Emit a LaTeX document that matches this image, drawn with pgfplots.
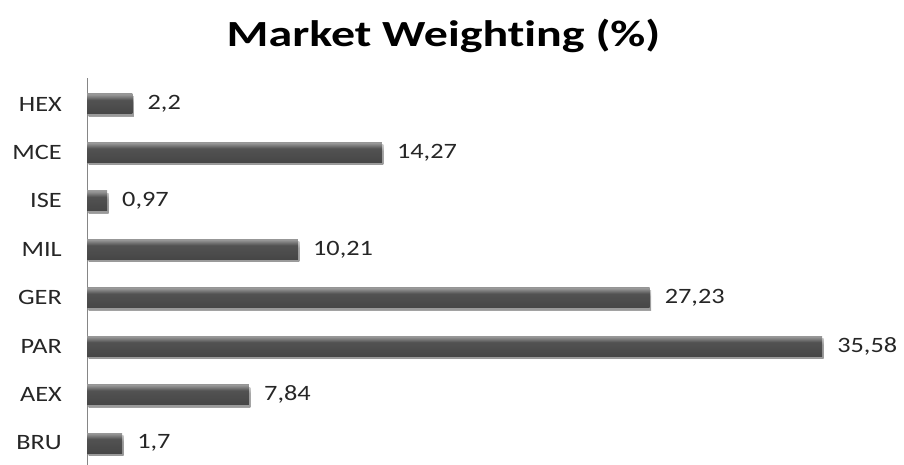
\documentclass[border=0pt]{standalone}
\usepackage{pgfplots}
\pgfplotsset{compat=1.18}
\usepackage{fontspec}
\setmainfont{Carlito}[FakeStretch=1.2, RawFeature=-liga]
\newfontfamily\titlefont{Carlito}[FakeStretch=1.3, RawFeature=-liga]
\usetikzlibrary{shadows}
\definecolor{barA}{HTML}{3A3A3A}
\definecolor{barB}{HTML}{484848}
\definecolor{barC}{HTML}{525252}
\definecolor{barD}{HTML}{9A9A9A}
\definecolor{barE}{HTML}{858585}
\definecolor{barF}{HTML}{5A5A5A}
\definecolor{axisgray}{HTML}{868686}
\pgfdeclareverticalshading{barshade}{100bp}{color(0bp)=(barA); color(30bp)=(barB); color(60bp)=(barC); color(74bp)=(barD); color(86bp)=(barE); color(100bp)=(barF)}
\pgfplotsset{
  mybar/.style={draw=none, shading=barshade, bar shift=0pt,
    drop shadow={shadow xshift=1.5bp, shadow yshift=-2.5bp, fill=black!13}},
}
\begin{document}
\begin{tikzpicture}
\path[use as bounding box] (0,0) rectangle (904bp,465bp);
\node[font=\titlefont\bfseries\fontsize{37}{44}\selectfont, anchor=base] at (443.5bp,418bp) {Market Weighting (\%)};
\begin{axis}[
  at={(87bp,0bp)}, anchor=south west,
  scale only axis,
  x=20.66bp, y=48.43bp,
  xmin=0, xmax=39, ymin=-0.454, ymax=7.537,
  hide x axis,
  axis y line=left,
  y axis line style={-, draw=axisgray, line width=0.8bp},
  ytick={0,...,7},
  yticklabels={BRU,AEX,PAR,GER,MIL,ISE,MCE,HEX},
  major tick length=0pt,
  yticklabel style={font=\fontsize{22}{26}\selectfont, inner sep=0pt, xshift=-25bp, text=black!85},
  xbar, bar width=20bp,
  nodes near coords,
  nodes near coords style={anchor=west, inner sep=0pt, xshift=15bp, font=\fontsize{22}{26}\selectfont, text=black!85},
  /pgf/number format/use comma,
  /pgf/number format/assume math mode=true,
  clip=false,
]
\addplot[mybar] coordinates {(1.7,0)};
\addplot[mybar] coordinates {(7.84,1)};
\addplot[mybar] coordinates {(35.58,2)};
\addplot[mybar] coordinates {(27.23,3)};
\addplot[mybar] coordinates {(10.21,4)};
\addplot[mybar] coordinates {(0.97,5)};
\addplot[mybar] coordinates {(14.27,6)};
\addplot[mybar] coordinates {(2.2,7)};
\end{axis}
\end{tikzpicture}
\end{document}
